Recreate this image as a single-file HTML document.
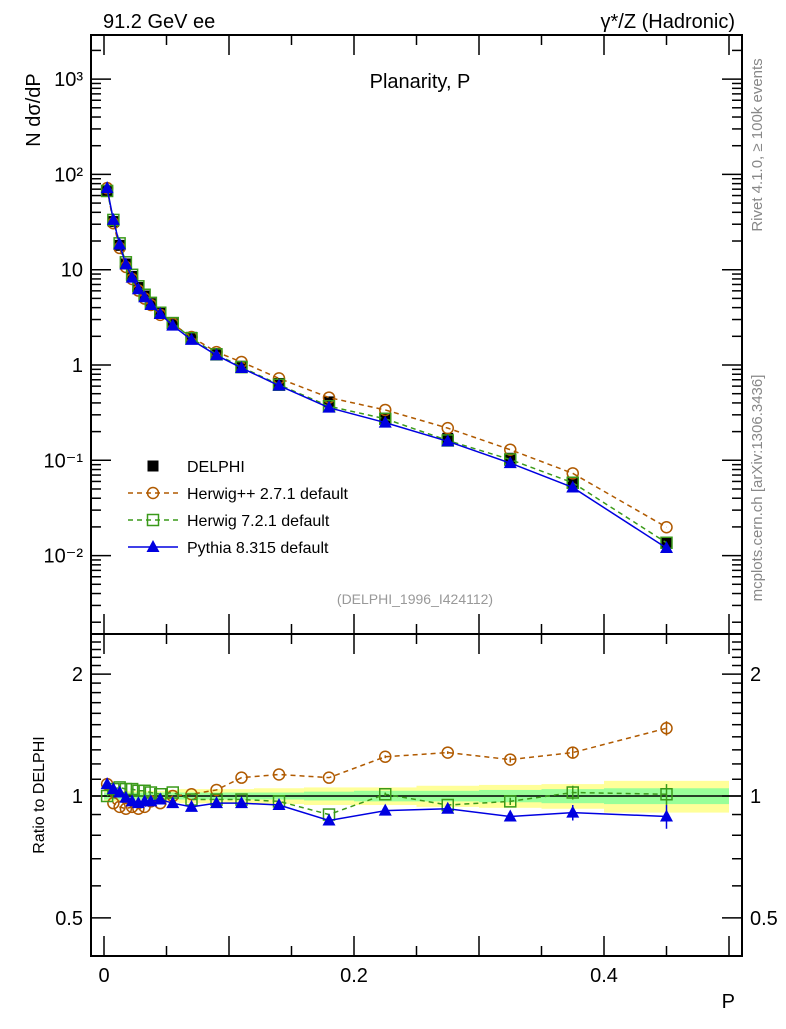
<!DOCTYPE html>
<html><head><meta charset="utf-8">
<style>
body{margin:0;background:#fff;}
svg text{font-family:"Liberation Sans",sans-serif;}
</style></head>
<body>
<svg id="c" width="786" height="1024" viewBox="0 0 786 1024" xmlns="http://www.w3.org/2000/svg">
<text x="103" y="28" font-size="20">91.2 GeV ee</text>
<text x="735" y="28" font-size="20" text-anchor="end">γ*/Z (Hadronic)</text>
<text x="420" y="88" font-size="20" text-anchor="middle">Planarity, P</text>
<text transform="translate(40,110) rotate(-90)" font-size="20" text-anchor="middle">N  dσ/dP</text>
<text transform="translate(44,795) rotate(-90)" font-size="16" text-anchor="middle">Ratio to DELPHI</text>
<text x="735" y="1008" font-size="20" text-anchor="end">P</text>
<text transform="translate(762,145) rotate(-90)" font-size="15" fill="#888" text-anchor="middle">Rivet 4.1.0, ≥ 100k events</text>
<text transform="translate(762,488) rotate(-90)" font-size="15" fill="#888" text-anchor="middle">mcplots.cern.ch [arXiv:1306.3436]</text>
<text x="415" y="604" font-size="14" fill="#999" text-anchor="middle">(DELPHI_1996_I424112)</text>
<g id="g"></g>
</svg>
<script>
const xs=[0.0025,0.0075,0.0125,0.0175,0.0225,0.0275,0.0325,0.0375,0.045,0.055,0.07,0.09,0.11,0.14,0.18,0.225,0.275,0.325,0.375,0.45];
const binEdges=[0,0.005,0.01,0.015,0.02,0.025,0.03,0.035,0.04,0.05,0.06,0.08,0.10,0.12,0.16,0.20,0.25,0.30,0.35,0.40,0.50];
const delphi=[67,32,18,11.5,8.5,6.5,5.3,4.4,3.5,2.7,1.95,1.32,0.97,0.64,0.41,0.27,0.17,0.105,0.057,0.0135];
const relErrStat=[0.02,0.02,0.02,0.02,0.02,0.02,0.02,0.02,0.02,0.02,0.02,0.02,0.02,0.02,0.025,0.03,0.03,0.035,0.04,0.045];
const relErrTot=[0.03,0.03,0.03,0.03,0.03,0.03,0.03,0.03,0.03,0.035,0.04,0.04,0.04,0.045,0.05,0.05,0.06,0.065,0.07,0.09];
const rHpp=[1.07,0.96,0.94,0.93,0.94,0.93,0.94,0.97,0.96,1.0,1.01,1.035,1.11,1.13,1.11,1.25,1.28,1.23,1.28,1.47];
const rH7=[1.0,1.04,1.05,1.04,1.04,1.03,1.03,1.02,1.01,1.02,0.98,0.98,0.98,0.97,0.90,1.01,0.95,0.97,1.02,1.01];
const rPy=[1.07,1.04,1.02,0.99,0.97,0.96,0.97,0.97,0.98,0.96,0.94,0.96,0.96,0.95,0.87,0.92,0.93,0.89,0.91,0.89];
const mcErr=[0,0,0,0,0,0,0,0,0,0,0,0,0,0,0,0.01,0.01,0.02,0.04,0.06];
const yTicks=[[1000,"10³"],[100,"10²"],[10,"10"],[1,"1"],[0.1,"10⁻¹"],[0.01,"10⁻²"]];
const rTicks=[[2,"2"],[1,"1"],[0.5,"0.5"]];
const xTicks=[[0,"0"],[0.2,"0.2"],[0.4,"0.4"]];

const NS="http://www.w3.org/2000/svg",G=document.getElementById('g');
const L=91,R=742,T=35,M=634,B=956;
const X=p=>104+p*1250;
const Y=v=>365-Math.log10(v)*95.3;
const RY=r=>796-Math.log10(r)*405;
function el(t,a,p){const e=document.createElementNS(NS,t);for(const k in a)e.setAttribute(k,a[k]);(p||G).appendChild(e);return e;}
for(let i=0;i<xs.length;i++){
 const x0=X(binEdges[i]),x1=X(binEdges[i+1]);
 const y=el('rect',{x:x0,y:RY(1+relErrTot[i]),width:x1-x0,height:RY(1-relErrTot[i])-RY(1+relErrTot[i]),fill:'#ffff99'});
 
 
 const g=el('rect',{x:x0,y:RY(1+relErrStat[i]),width:x1-x0,height:RY(1-relErrStat[i])-RY(1+relErrStat[i]),fill:'#99ff99'});
 
 
}
el('line',{x1:L,x2:R,y1:RY(1),y2:RY(1),stroke:'#000','stroke-width':1.5});
el('rect',{x:L,y:T,width:R-L,height:M-T,fill:'none',stroke:'#000','stroke-width':2});
el('rect',{x:L,y:M,width:R-L,height:B-M,fill:'none',stroke:'#000','stroke-width':2});
for(let e=-3;e<=3;e++)for(let m=1;m<10;m++){const v=m*Math.pow(10,e),y=Y(v);if(y<T||y>M)continue;const len=m==1?20:10;
 el('line',{x1:L,x2:L+len,y1:y,y2:y,stroke:'#000','stroke-width':1.5});el('line',{x1:R,x2:R-len,y1:y,y2:y,stroke:'#000','stroke-width':1.5});}
yTicks.forEach(t=>{const s=el('text',{x:L-8,y:Y(t[0])+7,'font-size':20,'text-anchor':'end'});s.textContent=t[1];
 
 });
for(let v=0.4;v<=2.5;v+=0.1){const y=RY(v);if(y<M||y>B)continue;const mj=Math.abs(v-1)<1e-6||Math.abs(v-2)<1e-6||Math.abs(v-0.5)<1e-6;const len=mj?20:10;
 el('line',{x1:L,x2:L+len,y1:y,y2:y,stroke:'#000','stroke-width':1.5});el('line',{x1:R,x2:R-len,y1:y,y2:y,stroke:'#000','stroke-width':1.5});}
rTicks.forEach(t=>{const s=el('text',{x:L-8,y:RY(t[0])+7,'font-size':20,'text-anchor':'end'});s.textContent=t[1];
 
 
 const s2=el('text',{x:R+8,y:RY(t[0])+7,'font-size':20});s2.textContent=t[1];
 
 });
for(let k=0;k<=10;k++){const x=X(k*0.05),len=k%2==0?20:10;
 [[M,-1],[T,1],[B,-1],[M,1]].forEach(([y0,d])=>el('line',{x1:x,x2:x,y1:y0,y2:y0+d*len,stroke:'#000','stroke-width':1.5}));}
xTicks.forEach(t=>{const s=el('text',{x:X(t[0]),y:982,'font-size':20,'text-anchor':'middle'});s.textContent=t[1];
 
 });
function marker(kind,x,y,col,p){
 if(kind=='circ')return el('circle',{cx:x,cy:y,r:5.5,fill:'none',stroke:col,'stroke-width':1.5},p);
 if(kind=='sq')return el('rect',{x:x-5.5,y:y-5.5,width:11,height:11,fill:'none',stroke:col,'stroke-width':1.5},p);
 if(kind=='fsq')return el('rect',{x:x-5.5,y:y-5.5,width:11,height:11,fill:col},p);
 return el('polygon',{points:`${x},${y-7} ${x-6.5},${y+5} ${x+6.5},${y+5}`,fill:col},p);
}
function series(name,ratios,col,kind,dash){
 const g=el('g',{});
 
 
 const main=xs.map((p,i)=>[X(p),Y(delphi[i]*ratios[i])]);
 const rat=xs.map((p,i)=>[X(p),RY(ratios[i])]);
 const a={fill:'none',stroke:col,'stroke-width':1.5};if(dash)a['stroke-dasharray']='5,4';
 el('polyline',Object.assign({points:main.join(' ')},a),g);
 el('polyline',Object.assign({points:rat.join(' ')},a),g);
 xs.forEach((p,i)=>{if(mcErr[i]>0){const x=X(p);el('line',{x1:x,x2:x,y1:RY(ratios[i]+mcErr[i]),y2:RY(ratios[i]-mcErr[i]),stroke:col,'stroke-width':1.5},g);}
  marker(kind,main[i][0],main[i][1],col,g);marker(kind,rat[i][0],rat[i][1],col,g);});
}
const dg=el('g',{});


xs.forEach((p,i)=>marker('fsq',X(p),Y(delphi[i]),'#000',dg));
series('herwigpp',rHpp,'#b05a00','circ',true);
series('herwig7',rH7,'#3a9a1a','sq',true);
series('pythia',rPy,'#0000e0','tri',false);
const leg=[['DELPHI','#000','fsq',null],['Herwig++ 2.7.1 default','#b05a00','circ',1],['Herwig 7.2.1 default','#3a9a1a','sq',1],['Pythia 8.315 default','#0000e0','tri',0]];
leg.forEach((l,i)=>{const y=466+i*27;const g=el('g',{});
 
 
 if(l[3]!==null){const a={x1:128,x2:178,y1:y,y2:y,stroke:l[1],'stroke-width':1.5};if(l[3])a['stroke-dasharray']='5,4';el('line',a,g);}
 marker(l[2],153,y,l[1],g);
 const t=el('text',{x:187,y:y+6,'font-size':16},g);t.textContent=l[0];});
</script>
</body></html>
